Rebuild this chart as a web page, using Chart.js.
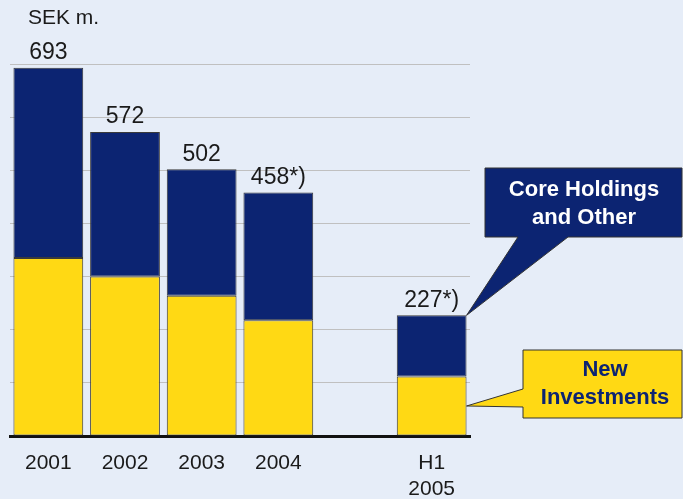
<!DOCTYPE html>
<html>
<head>
<meta charset="utf-8">
<script src="https://cdn.jsdelivr.net/npm/chart.js@4/dist/chart.umd.min.js"></script>
<style>
  body { margin: 0; background: #e6edf8; }
  canvas { display: block; }
</style>
</head>
<body>
<canvas id="chartSek" width="683" height="499"></canvas>
<script>
// values (SEK m.)
const categories = ['2001', '2002', '2003', '2004', '', ['H1', '2005']];
const newInvestments = [335, 300, 264, 218, null, 112];
const coreHoldings = [358, 272, 238, 240, null, 115];
const totalLabels = ['693', '572', '502', '458*)', '', '227*)'];

const NAVY = '#0c2472';
const YELLOW = '#ffd914';
const FONT = '"Liberation Sans", Arial, sans-serif';

// unit caption, totals above bars and the two callouts
const extras = {
    id: 'extras',
    afterDatasetsDraw(chart) {
        const ctx = chart.ctx;
        ctx.save();
        ctx.fillStyle = '#1a1a1a';
        ctx.font = '21px ' + FONT;
        ctx.textAlign = 'left';
        ctx.textBaseline = 'middle';
        ctx.fillText('SEK m.', 28, 18);

        const top = chart.getDatasetMeta(1).data;
        ctx.font = '23px ' + FONT;
        ctx.textAlign = 'center';
        totalLabels.forEach((t, i) => {
            if (!t) return;
            ctx.fillText(t, top[i].x, top[i].y - 15);
        });

        const last = categories.length - 1;
        const navyEl = top[last];
        const yelEl = chart.getDatasetMeta(0).data[last];
        const tipX = navyEl.x + navyEl.width / 2;

        ctx.lineWidth = 1;
        ctx.strokeStyle = '#333';

        // navy callout
        ctx.beginPath();
        ctx.moveTo(485, 168);
        ctx.lineTo(682, 168);
        ctx.lineTo(682, 237);
        ctx.lineTo(568, 237);
        ctx.lineTo(tipX, navyEl.y);
        ctx.lineTo(518, 237);
        ctx.lineTo(485, 237);
        ctx.closePath();
        ctx.fillStyle = NAVY;
        ctx.fill();
        ctx.stroke();

        ctx.fillStyle = '#ffffff';
        ctx.font = 'bold 22px ' + FONT;
        ctx.fillText('Core Holdings', 584, 190);
        ctx.fillText('and Other', 584, 218);

        // yellow callout
        const midY = (yelEl.y + yelEl.base) / 2;
        ctx.beginPath();
        ctx.moveTo(523, 350);
        ctx.lineTo(682, 350);
        ctx.lineTo(682, 418);
        ctx.lineTo(523, 418);
        ctx.lineTo(523, 407);
        ctx.lineTo(tipX, midY);
        ctx.lineTo(523, 389);
        ctx.closePath();
        ctx.fillStyle = YELLOW;
        ctx.fill();
        ctx.stroke();

        ctx.fillStyle = NAVY;
        ctx.fillText('New', 605, 370);
        ctx.fillText('Investments', 605, 398);
        ctx.restore();
    }
};

const ctx = document.getElementById('chartSek').getContext('2d');
new Chart(ctx, {
    type: 'bar',
    data: {
        labels: categories,
        datasets: [
            {
                label: 'New Investments',
                data: newInvestments,
                backgroundColor: YELLOW,
                borderColor: '#3a3a3a',
                borderWidth: 1,
                borderSkipped: false,
            },
            {
                label: 'Core Holdings and Other',
                data: coreHoldings,
                backgroundColor: NAVY,
                borderColor: '#3a3a3a',
                borderWidth: 1,
                borderSkipped: false,
            },
        ],
    },
    options: {
        responsive: false,
        animation: false,
        layout: { padding: { left: 10, right: 213, top: 64, bottom: 0 } },
        categoryPercentage: 1,
        barPercentage: 0.91,
        plugins: {
            legend: { display: false },
            tooltip: { enabled: false },
        },
        scales: {
            x: {
                stacked: true,
                grid: { display: false, drawTicks: false },
                border: { color: '#111', width: 3 },
                ticks: {
                    color: '#1a1a1a',
                    padding: 15,
                    font: { family: FONT, size: 21 },
                    maxRotation: 0,
                    autoSkip: false,
                },
                afterFit(scale) { scale.height = 63; },
            },
            y: {
                stacked: true,
                min: 0,
                max: 700,
                ticks: { display: false, stepSize: 100 },
                grid: { color: '#c0c0c0', drawTicks: false },
                border: { display: false },
            },
        },
    },
    plugins: [extras],
});
</script>
</body>
</html>
